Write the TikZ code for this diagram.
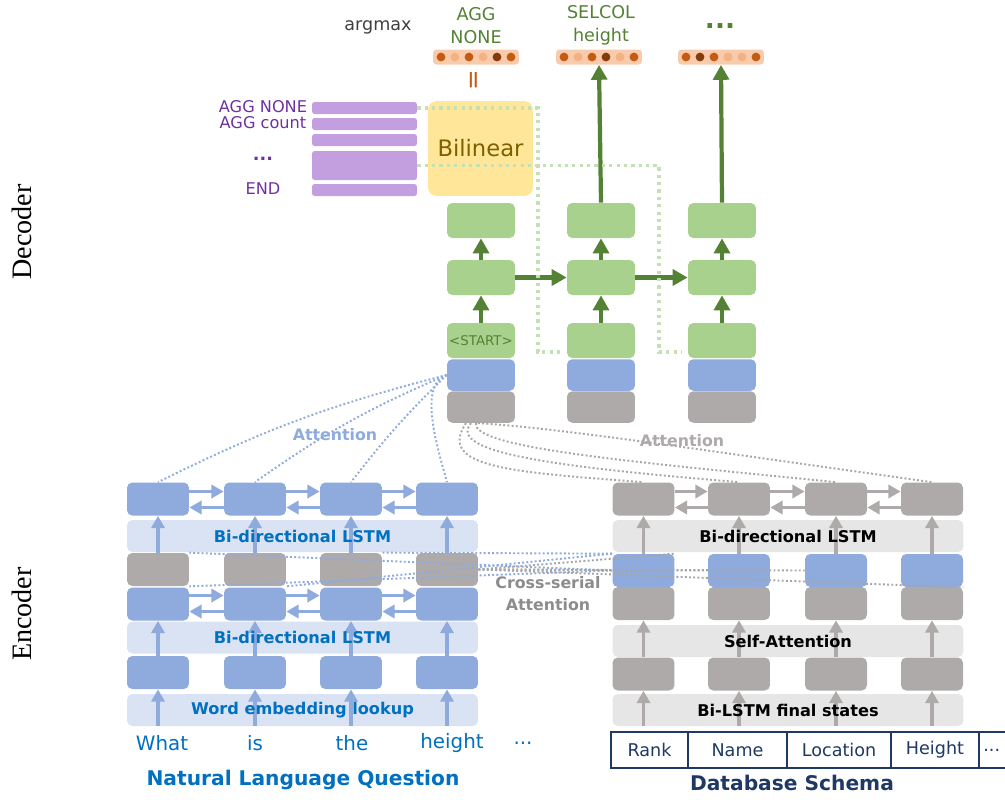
\documentclass[tikz,border=0pt]{standalone}
\usepackage{fontspec}
\setmainfont{DejaVu Sans}
\newfontfamily\capserif{Liberation Serif}
\usetikzlibrary{arrows.meta}

\definecolor{boxblue}{HTML}{8FAADC}
\definecolor{bandblue}{HTML}{DAE3F3}
\definecolor{txtblue}{HTML}{0070C0}
\definecolor{boxgray}{HTML}{AEAAAA}
\definecolor{bandgray}{HTML}{E7E6E6}
\definecolor{boxgreen}{HTML}{A9D18E}
\definecolor{darkgreen}{HTML}{548235}
\definecolor{dotgreen}{HTML}{C5E0B4}
\definecolor{barpurple}{HTML}{C49FDF}
\definecolor{txtpurple}{HTML}{7030A0}
\definecolor{bilyellow}{HTML}{FFE699}
\definecolor{bilbrown}{HTML}{7F6000}
\definecolor{vecbg}{HTML}{F8CBAD}
\definecolor{dotorange}{HTML}{C55A11}
\definecolor{dotlight}{HTML}{F4B183}
\definecolor{dotdark}{HTML}{843C0C}
\definecolor{navy}{HTML}{1F3864}
\definecolor{attgray}{HTML}{A6A6A6}
\definecolor{crossgray}{HTML}{8C8C8C}
\definecolor{darktext}{HTML}{404040}

\tikzset{
  qbox/.style={fill=boxblue, rounded corners=3pt, minimum width=1.24cm, minimum height=0.66cm, inner sep=0pt},
  gbox/.style={qbox, fill=boxgray},
  dbox/.style={fill=boxgreen, rounded corners=3pt, minimum width=1.36cm, minimum height=0.7cm, inner sep=0pt},
  dlow/.style={dbox, minimum height=0.63cm},
  qband/.style={fill=bandblue, rounded corners=3pt, minimum width=7.02cm, minimum height=0.64cm, inner sep=0pt},
  sband/.style={qband, fill=bandgray},
  bandtxt/.style={font=\fontsize{9.2}{11}\selectfont\bfseries},
  qarrow/.style={draw=boxblue, line width=2.1pt, -{Triangle[width=7.5pt,length=7pt]}},
  sarrow/.style={qarrow, draw=boxgray},
  garrow/.style={draw=darkgreen, line width=2.4pt, -{Triangle[width=9pt,length=8.5pt]}},
  qattn/.style={draw=boxblue, line width=1.1pt, dash pattern=on 1.1pt off 1.3pt},
  sattn/.style={qattn, draw=attgray},
  gdots/.style={draw=dotgreen, line width=1.8pt, dash pattern=on 1.8pt off 2.4pt},
  pbar/.style={fill=barpurple, rounded corners=1.5pt, minimum width=2.1cm, minimum height=0.24cm, inner sep=0pt},
  ptxt/.style={text=txtpurple, font=\fontsize{9.2}{10}\selectfont},
  vec/.style={fill=vecbg, rounded corners=2pt, minimum width=1.72cm, minimum height=0.3cm, inner sep=0pt},
  dtxt/.style={text=darkgreen, align=center, font=\fontsize{10}{13}\selectfont},
  word/.style={text=txtblue, font=\fontsize{11.3}{13}\selectfont},
  cell/.style={draw=navy, line width=1.6pt, minimum height=0.72cm, inner sep=0pt, text=navy, font=\fontsize{10}{12}\selectfont},
  title/.style={font=\fontsize{11.5}{13}\selectfont\bfseries}
}

\begin{document}
\begin{tikzpicture}[x=0.02cm,y=-0.02cm]
\useasboundingbox (0,0) rectangle (1005,799);

% side labels
\node[rotate=90, font=\capserif\fontsize{16}{18}\selectfont] (declbl) at (22,232) {Decoder};
\node[rotate=90, font=\capserif\fontsize{16}{18}\selectfont] (enclbl) at (22,614) {Encoder};

% question encoder
\node[qband] (qband1) at (302.5,536) {};
\node[qband] (qband2) at (302.5,637.5) {};
\node[qband] (qband3) at (302.5,710) {};
\node[qbox] (qt1) at (158,499) {};
\node[qbox] (qt2) at (255,499) {};
\node[qbox] (qt3) at (351,499) {};
\node[qbox] (qt4) at (447,499) {};
\node[gbox] (qg1) at (158,569.5) {};
\node[gbox] (qg2) at (255,569.5) {};
\node[gbox] (qg3) at (351,569.5) {};
\node[gbox] (qg4) at (447,569.5) {};
\node[qbox] (qm1) at (158,604) {};
\node[qbox] (qm2) at (255,604) {};
\node[qbox] (qm3) at (351,604) {};
\node[qbox] (qm4) at (447,604) {};
\node[qbox] (qe1) at (158,672.5) {};
\node[qbox] (qe2) at (255,672.5) {};
\node[qbox] (qe3) at (351,672.5) {};
\node[qbox] (qe4) at (447,672.5) {};
\draw[qarrow] (qe1.south |- qband3.south) -- (qe1.south);
\draw[qarrow] (qe2.south |- qband3.south) -- (qe2.south);
\draw[qarrow] (qe3.south |- qband3.south) -- (qe3.south);
\draw[qarrow] (qe4.south |- qband3.south) -- (qe4.south);
\draw[qarrow] (qe1.north) -- (qm1.south);
\draw[qarrow] (qe2.north) -- (qm2.south);
\draw[qarrow] (qe3.north) -- (qm3.south);
\draw[qarrow] (qe4.north) -- (qm4.south);
\draw[qarrow] (qg1.north) -- (qt1.south);
\draw[qarrow] (qg2.north) -- (qt2.south);
\draw[qarrow] (qg3.north) -- (qt3.south);
\draw[qarrow] (qg4.north) -- (qt4.south);
\draw[qarrow] ([yshift=0.15cm]qt1.east) -- ([yshift=0.15cm]qt2.west);
\draw[qarrow] ([yshift=0.15cm]qt2.east) -- ([yshift=0.15cm]qt3.west);
\draw[qarrow] ([yshift=0.15cm]qt3.east) -- ([yshift=0.15cm]qt4.west);
\draw[qarrow] ([yshift=-0.17cm]qt2.west) -- ([yshift=-0.17cm]qt1.east);
\draw[qarrow] ([yshift=-0.17cm]qt3.west) -- ([yshift=-0.17cm]qt2.east);
\draw[qarrow] ([yshift=-0.17cm]qt4.west) -- ([yshift=-0.17cm]qt3.east);
\draw[qarrow] ([yshift=0.17cm]qm1.east) -- ([yshift=0.17cm]qm2.west);
\draw[qarrow] ([yshift=0.17cm]qm2.east) -- ([yshift=0.17cm]qm3.west);
\draw[qarrow] ([yshift=0.17cm]qm3.east) -- ([yshift=0.17cm]qm4.west);
\draw[qarrow] ([yshift=-0.15cm]qm2.west) -- ([yshift=-0.15cm]qm1.east);
\draw[qarrow] ([yshift=-0.15cm]qm3.west) -- ([yshift=-0.15cm]qm2.east);
\draw[qarrow] ([yshift=-0.15cm]qm4.west) -- ([yshift=-0.15cm]qm3.east);
\node[bandtxt, text=txtblue] (qlbl1) at (qband1) {Bi-directional LSTM};
\node[bandtxt, text=txtblue] (qlbl2) at (qband2) {Bi-directional LSTM};
\node[bandtxt, text=txtblue] (qlbl3) at (qband3) {Word embedding lookup};
\node[word] (w1) at (162,743) {What};
\node[word] (w2) at (255,743) {is};
\node[word] (w3) at (352,743) {the};
\node[word] (w4) at (452,743) {height};
\node[word] (w5) at (523,743) {...};
\node[title, text=txtblue] (qtitle) at (303,780) {Natural Language Question};

% schema encoder
\node[sband] (sband1) at (788,536) {};
\node[sband] (sband2) at (788,641) {};
\node[sband] (sband3) at (788,710) {};
\node[gbox] (st1) at (643.5,499) {};
\node[gbox] (st2) at (739,499) {};
\node[gbox] (st3) at (836,499) {};
\node[gbox] (st4) at (932,499) {};
\node[qbox] (sb1) at (643.5,570.5) {};
\node[qbox] (sb2) at (739,570.5) {};
\node[qbox] (sb3) at (836,570.5) {};
\node[qbox] (sb4) at (932,570.5) {};
\node[gbox] (sm1) at (643.5,603.5) {};
\node[gbox] (sm2) at (739,603.5) {};
\node[gbox] (sm3) at (836,603.5) {};
\node[gbox] (sm4) at (932,603.5) {};
\node[gbox] (se1) at (643.5,674) {};
\node[gbox] (se2) at (739,674) {};
\node[gbox] (se3) at (836,674) {};
\node[gbox] (se4) at (932,674) {};
\draw[sarrow] (se1.south |- sband3.south) -- (se1.south);
\draw[sarrow] (se2.south |- sband3.south) -- (se2.south);
\draw[sarrow] (se3.south |- sband3.south) -- (se3.south);
\draw[sarrow] (se4.south |- sband3.south) -- (se4.south);
\draw[sarrow] (se1.north) -- (sm1.south);
\draw[sarrow] (se2.north) -- (sm2.south);
\draw[sarrow] (se3.north) -- (sm3.south);
\draw[sarrow] (se4.north) -- (sm4.south);
\draw[sarrow] (sb1.north) -- (st1.south);
\draw[sarrow] (sb2.north) -- (st2.south);
\draw[sarrow] (sb3.north) -- (st3.south);
\draw[sarrow] (sb4.north) -- (st4.south);
\draw[sarrow] ([yshift=0.15cm]st1.east) -- ([yshift=0.15cm]st2.west);
\draw[sarrow] ([yshift=0.15cm]st2.east) -- ([yshift=0.15cm]st3.west);
\draw[sarrow] ([yshift=0.15cm]st3.east) -- ([yshift=0.15cm]st4.west);
\draw[sarrow] ([yshift=-0.17cm]st2.west) -- ([yshift=-0.17cm]st1.east);
\draw[sarrow] ([yshift=-0.17cm]st3.west) -- ([yshift=-0.17cm]st2.east);
\draw[sarrow] ([yshift=-0.17cm]st4.west) -- ([yshift=-0.17cm]st3.east);
\node[bandtxt] (slbl1) at (sband1) {Bi-directional LSTM};
\node[bandtxt] (slbl2) at (sband2) {Self-Attention};
\node[bandtxt] (slbl3) at (sband3) {Bi-LSTM final states};
\node[cell, minimum width=1.54cm] (col1) at (649.5,750) {Rank};
\node[cell, minimum width=1.98cm] (col2) at (737.5,750) {Name};
\node[cell, minimum width=2.08cm] (col3) at (839,750) {Location};
\node[cell, minimum width=1.76cm] (col4) at (935,750) {Height};
\node[cell, text width=0.84cm, align=left] (col5) at (1000,750) {\hspace{2.5pt}...};
\node[title, text=navy] (stitle) at (792,783) {Database Schema};

% cross-serial attention
\draw[qattn] (sb1.west) -- (qg1.south east);
\draw[qattn] (sb1.west) -- (qg1.north east);
\draw[qattn] (sb1.north west) -- (qg2.south east);
\draw[qattn] (sb1.north west) -- (qg3.north east);
\draw[sattn] (qg4.east) -- (sb1.north east);
\draw[sattn] (qg4.east) -- (sb2.west);
\draw[sattn] (qg4.east) -- (sb3.west);
\draw[sattn] (qg4.east) -- (sb4.south east);
\node[text=crossgray, align=center, font=\fontsize{9}{12.5}\selectfont\bfseries] (crosslbl) at (548,594) {Cross-serial\\Attention};

% decoder
\node[dbox] (dt1) at (481,220.5) {};
\node[dbox] (dt2) at (601,220.5) {};
\node[dbox] (dt3) at (722,220.5) {};
\node[dbox] (dm1) at (481,277.5) {};
\node[dbox] (dm2) at (601,277.5) {};
\node[dbox] (dm3) at (722,277.5) {};
\node[dbox, text=darkgreen, font=\fontsize{7.6}{9}\selectfont] (ds1) at (481,340.5) {<START>};
\node[dbox] (ds2) at (601,340.5) {};
\node[dbox] (ds3) at (722,340.5) {};
\node[dlow, fill=boxblue] (db1) at (481,375) {};
\node[dlow, fill=boxblue] (db2) at (601,375) {};
\node[dlow, fill=boxblue] (db3) at (722,375) {};
\node[dlow, fill=boxgray] (dg1) at (481,407) {};
\node[dlow, fill=boxgray] (dg2) at (601,407) {};
\node[dlow, fill=boxgray] (dg3) at (722,407) {};
\node[vec] (ov1) at (476,57) {};
\node[vec] (ov2) at (599,57) {};
\node[vec] (ov3) at (721,57) {};
\foreach \c [count=\i] in {dotorange,dotlight,dotorange,dotlight,dotdark,dotorange}
  \fill[\c] ([xshift=\i*0.28cm-0.98cm]ov1.center) circle (2.5pt);
\foreach \c [count=\i] in {dotorange,dotlight,dotorange,dotdark,dotlight,dotorange}
  \fill[\c] ([xshift=\i*0.28cm-0.98cm]ov2.center) circle (2.5pt);
\foreach \c [count=\i] in {dotorange,dotdark,dotorange,dotlight,dotlight,dotorange}
  \fill[\c] ([xshift=\i*0.28cm-0.98cm]ov3.center) circle (2.5pt);
\draw[garrow] (ds1.north) -- (dm1.south);
\draw[garrow] (ds2.north) -- (dm2.south);
\draw[garrow] (ds3.north) -- (dm3.south);
\draw[garrow] (dm1.north) -- (dt1.south);
\draw[garrow] (dm2.north) -- (dt2.south);
\draw[garrow] (dm3.north) -- (dt3.south);
\draw[garrow] (dm1.east) -- (dm2.west);
\draw[garrow] (dm2.east) -- (dm3.west);
\draw[garrow] (dt2.north) -- (ov2.south);
\draw[garrow] (dt3.north) -- (ov3.south);
\node[dtxt] (out1) at (476,25.5) {AGG\\NONE};
\node[dtxt] (out2) at (601,25.5) {SELCOL\\height};
\node[text=darkgreen, font=\fontsize{15}{16}\selectfont\bfseries] (out3) at (720,26) {...};
\node[text=darktext, font=\fontsize{10}{12}\selectfont] (amax) at (378,27) {argmax};
\node[text=dotorange, rotate=90, font=\fontsize{14}{14}\selectfont] (eq1) at (476,80) {=};

% bilinear scorer over the output embeddings
\node[fill=bilyellow, rounded corners=5pt, minimum width=2.1cm, minimum height=1.9cm, text=bilbrown, font=\fontsize{12.9}{14}\selectfont] (bil) at (480.5,148.5) {Bilinear};
\node[pbar] (pb1) at (364.5,108) {};
\node[pbar] (pb2) at (364.5,124) {};
\node[pbar] (pb3) at (364.5,140) {};
\node[pbar, minimum height=0.58cm] (pb4) at (364.5,165.5) {};
\node[pbar] (pb5) at (364.5,190) {};
\node[ptxt] (plbl1) at (263,107) {AGG NONE};
\node[ptxt] (plbl2) at (263,123) {AGG count};
\node[ptxt, font=\fontsize{10}{10}\selectfont\bfseries] (plbl3) at (263,159) {...};
\node[ptxt] (plbl4) at (263,189) {END};
\coordinate (gend1) at (560,352);
\coordinate (gend2) at (682,352);
\draw[gdots] (pb1.east) -| (538,352) -- (gend1);
\draw[gdots] (pb4.east) -| (659,352) -- (gend2);

% attention from the decoder
\draw[qattn] (db1.west) to[bend right=6] (qt1.north);
\draw[qattn] (db1.west) to[bend right=6] (qt2.north);
\draw[qattn] (db1.west) to[bend right=4] (qt3.north);
\draw[qattn] (db1.west) .. controls +(-30,10) and +(-8,-30) .. (qt4.north);
\draw[sattn] ([xshift=-0.06cm]dg1.south) .. controls +(80,5) and +(-250,-35) .. (st4.north);
\draw[sattn] ([xshift=-0.1cm]dg1.south) .. controls +(-5,25) and +(-200,-20) .. (st3.north);
\draw[sattn] ([xshift=-0.2cm]dg1.south) .. controls +(-25,30) and +(-180,-15) .. (st2.north);
\draw[sattn] ([xshift=-0.3cm]dg1.south) .. controls +(-30,45) and +(-130,-10) .. (st1.north);
\node[text=boxblue, font=\fontsize{9}{11}\selectfont\bfseries] (qattlbl) at (335,435) {Attention};
\node[text=boxgray, font=\fontsize{9}{11}\selectfont\bfseries] (sattlbl) at (682,441) {Attention};
\end{tikzpicture}
\end{document}
